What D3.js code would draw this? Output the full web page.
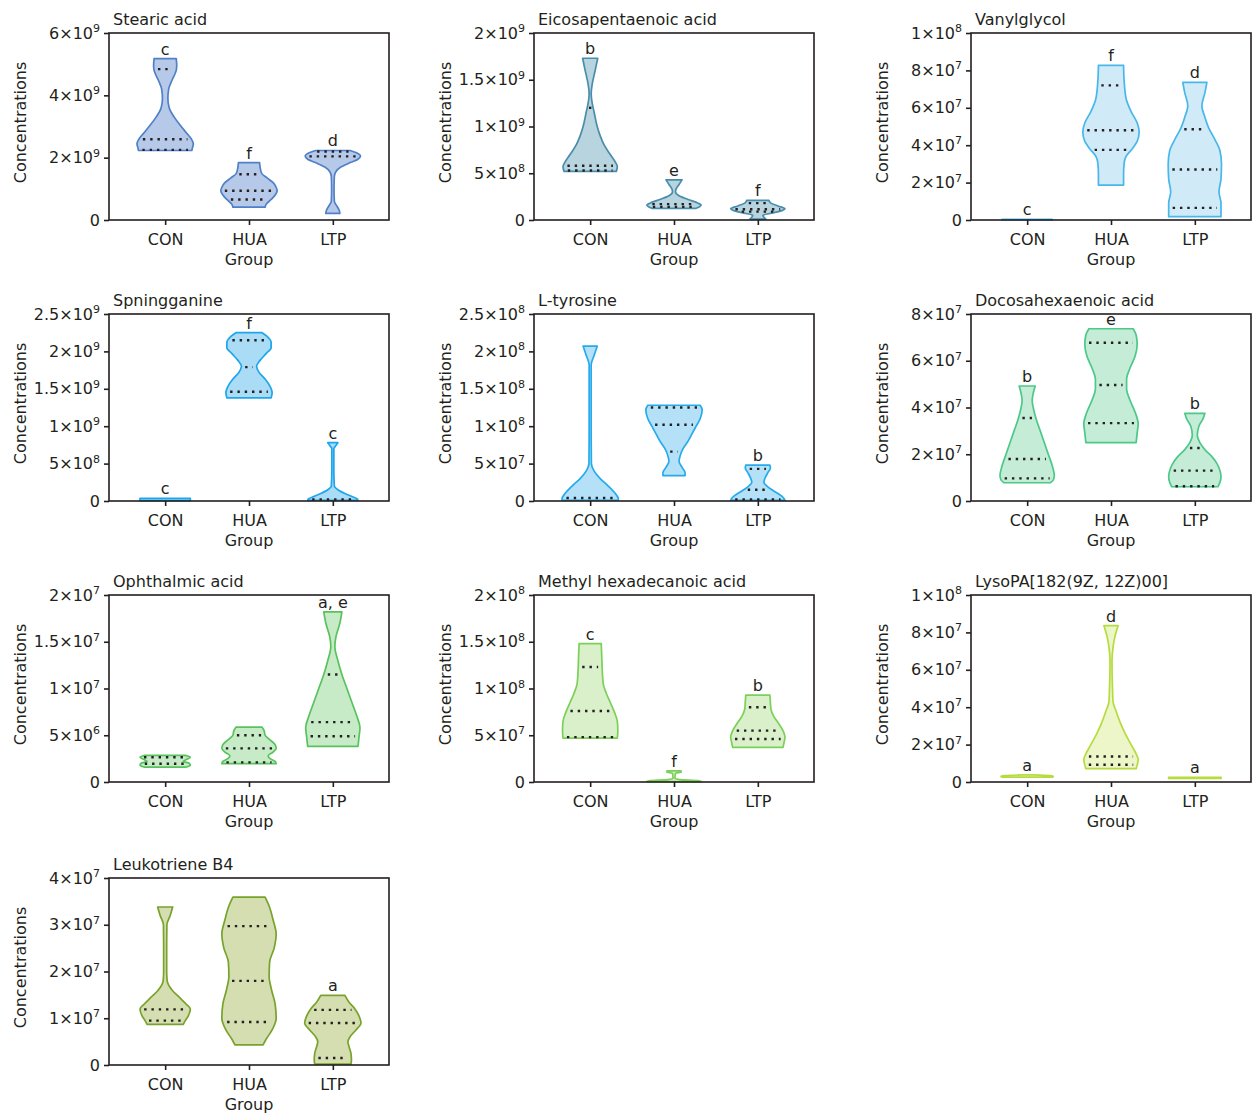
<!DOCTYPE html>
<html>
<head>
<meta charset="utf-8">
<script src="https://cdn.jsdelivr.net/npm/d3@7"></script>
<style>
  body { margin: 0; background: #fff; }
  text { font-family: "DejaVu Sans", Verdana, sans-serif; fill: #231f20; }
</style>
</head>
<body>
<svg id="chart"></svg>
<script>
var groups = ["CON", "HUA", "LTP"];
var titles = ["Stearic acid", "Eicosapentaenoic acid", "Vanylglycol",
    "Spningganine", "L-tyrosine", "Docosahexaenoic acid",
    "Ophthalmic acid", "Methyl hexadecanoic acid", "LysoPA[182(9Z, 12Z)00]",
    "Leukotriene B4"];
// every value of a panel is written in this unit
var units = [1e9, 1e9, 1e7, 1e9, 1e8, 1e7, 1e6, 1e8, 1e7, 1e7];
var yMax = [6, 2, 10, 2.5, 2.5, 8, 20, 2, 10, 4];
var yTicks = [
    [0, 2, 4, 6], [0, 0.5, 1, 1.5, 2], [0, 2, 4, 6, 8, 10],
    [0, 0.5, 1, 1.5, 2, 2.5], [0, 0.5, 1, 1.5, 2, 2.5], [0, 2, 4, 6, 8],
    [0, 5, 10, 15, 20], [0, 0.5, 1, 1.5, 2], [0, 2, 4, 6, 8, 10],
    [0, 1, 2, 3, 4]
];
var letters = [["c", "f", "d"], ["b", "e", "f"], ["c", "f", "d"], ["c", "f", "c"],
    ["", "", "b"], ["b", "e", "b"], ["", "", "a, e"], ["c", "f", "b"],
    ["a", "d", "a"], ["", "", "a"]];
var fills = ["#b7c9e8", "#b7d4df", "#d0eaf8", "#aadcf6", "#b4e1f7",
    "#c5ecd7", "#c7eac7", "#d9f0cb", "#edf6c8", "#d4deb1"];
var strokes = ["#5080c8", "#4a8dab", "#48b7ea", "#1ea5ec", "#25abeb",
    "#4cc888", "#58c35e", "#7bd058", "#b5dc3c", "#78a22b"];

// violin outlines: [value, density] read top to bottom, for CON, HUA, LTP
var stearic = [
    [[5.18,11],[4.95,11.5],[4.8,11],[4.5,7],[4.2,3.5],[3.9,2.7],[3.6,4],[3.3,9],[3.0,16],[2.8,21],[2.6,26],[2.45,28],[2.3,27],[2.23,26.5]],
    [[1.84,10.5],[1.7,11],[1.5,12.5],[1.35,18],[1.2,24],[1.05,27],[0.94,28],[0.8,26],[0.66,22],[0.5,17],[0.41,16]],
    [[2.23,17],[2.15,24],[2.05,27.5],[1.95,25],[1.85,18],[1.7,8],[1.55,3],[1.4,1.5],[1.0,1.2],[0.6,1.5],[0.45,4],[0.3,6.5],[0.21,7]]
];
var eicosa = [
    [[1.73,7.5],[1.6,5],[1.45,2],[1.35,1],[1.25,2],[1.15,4],[1.0,7],[0.9,10],[0.8,14],[0.7,20],[0.62,25],[0.57,27],[0.52,26]],
    [[0.43,8],[0.38,5],[0.33,2],[0.3,1.5],[0.26,5],[0.22,14],[0.18,24],[0.16,27],[0.14,25],[0.125,22]],
    [[0.21,11],[0.18,13],[0.15,20],[0.12,27],[0.1,24],[0.07,12],[0.05,5],[0.03,6],[0.01,8]]
];
var vanyl = [
    [[0.04,25],[0,25]],
    [[8.27,12.5],[7.5,13],[6.5,15],[5.8,20],[5.2,26],[4.7,28],[4.2,26],[3.8,21],[3.4,15],[3.0,13],[2.4,12.5],[1.87,12.5]],
    [[7.36,12],[6.8,10],[6.1,7],[5.5,10],[4.9,14],[4.3,20],[3.7,25],[3.0,26.5],[2.2,26],[1.5,24],[0.9,26],[0.4,26],[0.18,26]]
];
var spning = [
    [[0.035,25],[0.005,25]],
    [[2.25,13],[2.2,18],[2.12,22],[2.05,22],[1.97,17],[1.88,11],[1.8,7.5],[1.72,10],[1.63,16],[1.53,21],[1.45,23],[1.38,22]],
    [[0.78,5],[0.74,3],[0.7,1],[0.4,1],[0.2,1.5],[0.15,5],[0.1,12],[0.06,19],[0.03,24],[0.01,25]]
];
var tyrosine = [
    [[2.07,7],[1.95,4],[1.82,1],[1.0,1],[0.5,1.2],[0.4,4],[0.3,10],[0.2,18],[0.1,25],[0.03,28],[0.01,28]],
    [[1.28,26],[1.22,28],[1.1,26],[1.0,22],[0.9,18],[0.8,14],[0.7,9],[0.6,6],[0.53,5],[0.45,8],[0.38,11],[0.34,11]],
    [[0.48,12],[0.44,12.5],[0.38,10],[0.3,7],[0.25,6],[0.2,9],[0.15,14],[0.1,20],[0.05,25],[0.01,27]]
];
var docosa = [
    [[4.92,8],[4.6,6],[4.3,5],[4.0,6],[3.5,9],[3.0,13],[2.5,17],[2.0,21],[1.5,25],[1.1,27],[0.9,26],[0.78,23]],
    [[7.37,22],[7.1,25],[6.7,26],[6.2,24],[5.7,19],[5.2,15.5],[4.8,15.5],[4.3,19],[3.8,24],[3.3,27],[2.9,26],[2.5,25]],
    [[3.75,10],[3.5,8],[3.2,4],[2.8,2.5],[2.5,5],[2.2,10],[1.9,17],[1.6,22],[1.3,25],[1.05,26],[0.8,25],[0.61,23]]
];
var ophthalmic = [
    [[2.85,20],[2.65,25],[2.4,21],[2.2,18],[2.0,24],[1.8,25],[1.6,21]],
    [[5.87,13],[5.5,15],[5.0,16],[4.5,21],[4.0,26],[3.6,27],[3.2,24],[2.8,19],[2.5,21],[2.2,26],[1.96,27]],
    [[18.2,9],[17,7],[15.5,3],[14.5,2],[13,5],[11.5,9],[10,14],[8.5,19],[7,24],[5.8,27],[4.8,26],[3.8,25]]
];
var methyl = [
    [[1.48,11],[1.35,11.5],[1.2,12],[1.05,13],[0.95,16],[0.85,20],[0.75,24],[0.65,27],[0.55,27.5],[0.47,27]],
    [[0.12,7],[0.105,7],[0.095,1.5],[0.04,1],[0.025,6],[0.015,24],[0.005,27]],
    [[0.93,12],[0.85,12.5],[0.78,13],[0.7,16],[0.62,21],[0.55,25],[0.48,27],[0.42,26],[0.37,25]]
];
var lysoPA = [
    [[0.38,6],[0.34,22],[0.3,26],[0.26,25]],
    [[8.36,7],[7.8,4],[7.2,2],[6.5,1],[5.0,1.5],[4.3,2],[3.8,5],[3.2,9],[2.6,14],[2.0,20],[1.5,25],[1.2,27],[0.9,26],[0.71,25]],
    [[0.25,26],[0.19,26]]
];
var leuko = [
    [[3.38,7.5],[3.2,5],[3.0,1.7],[2.5,1.5],[2.0,1.5],[1.8,2],[1.6,7],[1.45,14],[1.3,21],[1.2,25],[1.05,23],[0.95,20],[0.87,18]],
    [[3.59,16],[3.4,20],[3.1,24],[2.8,27],[2.5,25],[2.2,20.5],[1.9,20],[1.6,22.5],[1.3,26],[1.0,27],[0.75,23],[0.55,17],[0.43,14]],
    [[1.49,12],[1.35,16],[1.2,22],[1.05,26],[0.9,28],[0.75,23],[0.6,17],[0.5,15],[0.4,16],[0.25,18],[0.1,18.5],[0.02,18]]
];
var profiles = [stearic, eicosa, vanyl, spning, tyrosine, docosa, ophthalmic, methyl, lysoPA, leuko];

// dotted lines (median / quartiles) per group
var quartiles = [
    [[2.25,2.59,4.84],[0.66,0.94,1.47],[2.04,2.2]],
    [[0.53,0.58,1.2],[0.14,0.17],[0.09,0.115,0.18]],
    [[],[3.75,4.8,7.2],[0.65,2.7,4.85]],
    [[],[1.46,1.79,2.15],[0.02]],
    [[0.04],[0.66,1.02,1.25],[0.02,0.15,0.43]],
    [[0.97,1.8,3.55],[3.33,4.96,6.77],[0.63,1.3,2.27]],
    [[1.95,2.65],[2.1,3.6,5.0],[4.9,6.4,11.5]],
    [[0.48,0.76,1.23],[],[0.46,0.55,0.8]],
    [[],[0.92,1.36],[]],
    [[0.95,1.19],[0.92,1.8,2.97],[0.15,0.9,1.18]]
];

var colX = [109, 534, 971],
    rowY = [33, 314, 595, 878],
    pw = 280,
    ph = 187,
    ink = "#231f20";

var svg = d3.select("#chart")
    .attr("width", 1253)
    .attr("height", 1117);

// density at a value, linear between read points
function densityAt(pts, v) {
    for (var k = 0; k < pts.length - 1; k++) {
        var a = pts[k], b = pts[k + 1];
        if (v >= a[0] && v <= b[0]) {
            return a[1] + (b[1] - a[1]) * (v - a[0]) / (b[0] - a[0]);
        }
    }
    return 0;
}

titles.forEach(function(title, i) {
    var left = colX[i % 3], top = rowY[Math.floor(i / 3)];
    var g = svg.append("g")
        .attr("transform", "translate(" + left + "," + top + ")");

    var x = d3.scalePoint().domain(groups).range([0, pw]).padding(0.67);
    var y = d3.scaleLinear().domain([0, yMax[i]]).range([ph, 0]);
    var w = d3.scaleLinear().domain([0, 30]).range([0, x.step() * 0.36]);

    // violins
    profiles[i].forEach(function(prof, j) {
        var pts = prof.slice().sort(function(a, b) { return a[0] - b[0]; });
        var cx = x(groups[j]);
        var area = d3.area()
            .curve(d3.curveMonotoneY)
            .y(function(d) { return y(d[0]); })
            .x0(function(d) { return cx - w(d[1]); })
            .x1(function(d) { return cx + w(d[1]); });

        g.append("path")
            .datum(pts)
            .attr("d", area)
            .attr("fill", fills[i])
            .attr("stroke", strokes[i])
            .attr("stroke-width", 1.7)
            .attr("stroke-linejoin", "round");

        quartiles[i][j].forEach(function(q) {
            var hw = Math.max(1.2, w(densityAt(pts, q)) - 4);
            g.append("line")
                .attr("x1", cx - hw)
                .attr("x2", cx + hw)
                .attr("y1", y(q))
                .attr("y2", y(q))
                .attr("stroke", ink)
                .attr("stroke-width", 2.4)
                .attr("stroke-dasharray", "2.4,4.9");
        });

        if (letters[i][j]) {
            g.append("text")
                .attr("x", cx)
                .attr("y", y(d3.max(pts, function(d) { return d[0]; })) - 4)
                .attr("text-anchor", "middle")
                .style("font-size", "16px")
                .text(letters[i][j]);
        }
    });

    // frame
    g.append("rect")
        .attr("width", pw)
        .attr("height", ph)
        .attr("fill", "none")
        .attr("stroke", ink)
        .attr("stroke-width", 1.6);

    // y axis
    var ya = g.append("g")
        .call(d3.axisLeft(y).tickValues(yTicks[i]).tickSize(5).tickPadding(4));
    ya.select(".domain").remove();
    ya.selectAll(".tick line").attr("stroke", ink).attr("stroke-width", 1.6);
    ya.selectAll(".tick text").each(function(d) {
        var t = d3.select(this).text(null)
            .attr("fill", ink)
            .style("font-size", "16px")
            .attr("font-family", "DejaVu Sans");
        var v = d * units[i];
        if (v === 0) { t.text("0"); return; }
        var e = Math.floor(Math.log10(v) + 1e-9);
        var m = +(v / Math.pow(10, e)).toFixed(2);
        t.append("tspan").text(m + "\u00d710");
        t.append("tspan").attr("dy", "-0.6em").style("font-size", "11px").text(e);
    });

    // x axis
    var xa = g.append("g")
        .attr("transform", "translate(0," + ph + ")")
        .call(d3.axisBottom(x).tickSize(5).tickPadding(9));
    xa.select(".domain").remove();
    xa.selectAll(".tick line").attr("stroke", ink).attr("stroke-width", 1.6);
    xa.selectAll(".tick text")
        .attr("fill", ink)
        .style("font-size", "16px")
        .attr("font-family", "DejaVu Sans");

    g.append("text")
        .attr("x", pw / 2)
        .attr("y", ph + 45)
        .attr("text-anchor", "middle")
        .style("font-size", "16px")
        .text("Group");

    g.append("text")
        .attr("transform", "rotate(-90)")
        .attr("x", -ph / 2 + 4)
        .attr("y", -83)
        .attr("text-anchor", "middle")
        .style("font-size", "16px")
        .text("Concentrations");

    // title
    g.append("text")
        .attr("x", 4)
        .attr("y", -8)
        .style("font-size", "16px")
        .text(title);
});
</script>
</body>
</html>
